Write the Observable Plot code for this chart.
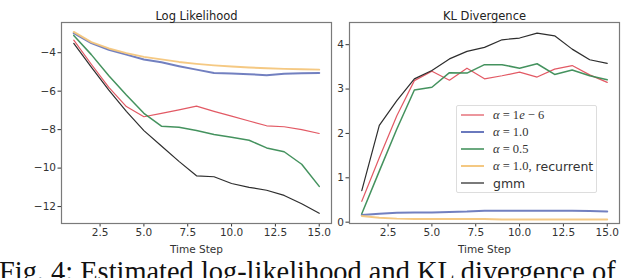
<!DOCTYPE html>
<html><head><meta charset="utf-8">
<script src="https://cdn.jsdelivr.net/npm/d3@7"></script>
<script src="https://cdn.jsdelivr.net/npm/@observablehq/plot@0.6"></script>
<style>
body{margin:0;background:#fff;}
#wrap{position:relative;width:628px;height:278px;overflow:hidden;background:#fff;}
#wrap > div.p{position:absolute;top:0;}
#legend{position:absolute;left:456px;top:105px;width:141px;height:88px;border:1px solid #ddd;background:rgba(255,255,255,0.85);box-sizing:border-box;border-radius:2px;}
.row{position:absolute;left:0;height:16px;display:flex;align-items:center;}
.row svg{margin-left:4px;margin-right:9px;}
.row span{font-size:12.5px;color:#333;white-space:nowrap;}
.m{font-family:"Liberation Serif",serif;}
.s{font-family:"DejaVu Sans",sans-serif;font-size:11.5px;}
#cap{position:absolute;left:-1px;top:255px;font-family:"Liberation Serif",serif;font-size:28.4px;line-height:34px;color:#111;white-space:nowrap;}
</style></head>
<body><div id="wrap"></div>
<script>
const steps = [1,2,3,4,5,6,7,8,9,10,11,12,13,14,15];
const seriesNames = ["α = 1e−6", "α = 1.0", "α = 0.5", "α = 1.0, recurrent", "gmm"];
const seriesColors = ["#e0505c", "#6a79bd", "#3a8c55", "#f4c67c", "#222222"];
const seriesWidths = [1.2, 2.0, 1.5, 1.9, 1.2];

// Log likelihood
const llRed    = [-3.35,-4.6,-5.8,-6.8,-7.33,-7.15,-6.97,-6.78,-7.05,-7.3,-7.55,-7.8,-7.85,-8.0,-8.2];
const llBlue   = [-2.98,-3.5,-3.85,-4.1,-4.35,-4.5,-4.7,-4.88,-5.05,-5.08,-5.12,-5.17,-5.1,-5.07,-5.05];
const llGreen  = [-3.1,-4.1,-5.2,-6.2,-7.15,-7.82,-7.88,-8.05,-8.25,-8.4,-8.55,-8.95,-9.15,-9.8,-10.95];
const llOrange = [-2.92,-3.45,-3.78,-4.02,-4.22,-4.35,-4.48,-4.58,-4.66,-4.72,-4.77,-4.81,-4.84,-4.86,-4.88];
const llBlack  = [-3.52,-4.75,-5.95,-7.05,-8.05,-8.85,-9.65,-10.4,-10.45,-10.8,-11.0,-11.15,-11.42,-11.85,-12.35];

// KL divergence
const klRed    = [0.47,1.45,2.4,3.19,3.4,3.2,3.47,3.23,3.3,3.38,3.27,3.45,3.53,3.32,3.15];
const klBlue   = [0.16,0.19,0.21,0.22,0.22,0.23,0.24,0.26,0.26,0.26,0.26,0.26,0.26,0.25,0.24];
const klGreen  = [0.19,1.15,2.1,2.98,3.04,3.37,3.36,3.55,3.55,3.47,3.57,3.33,3.43,3.3,3.21];
const klOrange = [0.14,0.1,0.08,0.07,0.07,0.07,0.07,0.07,0.06,0.06,0.06,0.06,0.06,0.06,0.06];
const klBlack  = [0.71,2.18,2.74,3.23,3.42,3.68,3.85,3.94,4.11,4.15,4.26,4.2,3.9,3.66,3.58];

const xTicks = [2.5, 5, 7.5, 10, 12.5, 15];
const llTicks = [-4, -6, -8, -10, -12];
const klTicks = [0, 1, 2, 3, 4];

function toRows(arrs){
  const rows = [];
  arrs.forEach((a, si) => a.forEach((v, i) => rows.push({t: steps[i], v, s: si})));
  return rows;
}

function panel(arrs, yDomain, yTicks, title, left){
  const rows = toRows(arrs);
  const order = [0,1,2,3,4];
  return Plot.plot({
    width: 340, height: 262,
    marginLeft: left, marginRight: 340 - left - 270, marginTop: 22, marginBottom: 39,
    style: {fontFamily: "DejaVu Sans, sans-serif", fontSize: "10px", color: "#333", background: "transparent", overflow: "visible"},
    x: {domain: [0.3, 15.7]},
    y: {domain: yDomain},
    marks: [
      Plot.axisX({ticks: xTicks, tickFormat: d => d.toFixed(1), tickSize: 3.5, tickPadding: 2, label: "Time Step", labelAnchor: "center", labelArrow: "none", labelOffset: 29, fontSize: 10.5}),
      Plot.axisX({ticks: xTicks, tickFormat: null, tickSize: 0, label: null, text: null}),
      Plot.axisY({ticks: yTicks, tickFormat: d => d < 0 ? "\u2212" + Math.abs(d) : String(d), tickSize: 3.5, tickPadding: 2, label: null, fontSize: 10.5}),
      ...order.map(si => Plot.line(rows.filter(r => r.s === si), {x: "t", y: "v", stroke: seriesColors[si], strokeWidth: seriesWidths[si], strokeOpacity: 0.95})),
      Plot.frame({stroke: "#7a7a7a", strokeWidth: 1.2}),
      Plot.text([title], {frameAnchor: "top", dy: -11, text: d => d, fontSize: 11.5, fill: "#222"})
    ]
  });
}

const wrap = document.getElementById("wrap");
const p1 = document.createElement("div"); p1.className = "p"; p1.style.left = "0px";
p1.appendChild(panel([llRed, llBlue, llGreen, llOrange, llBlack], [-12.88, -2.43], llTicks, "Log Likelihood", 61));
const p2 = document.createElement("div"); p2.className = "p"; p2.style.left = "288px";
p2.appendChild(panel([klRed, klBlue, klGreen, klOrange, klBlack], [-0.03, 4.5], klTicks, "KL Divergence", 61));
wrap.appendChild(p1); wrap.appendChild(p2);

// legend
const leg = document.createElement("div"); leg.id = "legend";
const labelsHtml = [
  '<span class="m"><i>α</i> = 1<i>e</i> − 6</span>',
  '<span class="m"><i>α</i> = 1.0</span>',
  '<span class="m"><i>α</i> = 0.5</span>',
  '<span class="m"><i>α</i> = 1.0, </span><span class="s">&nbsp;recurrent</span>',
  '<span class="s">gmm</span>'
];
seriesNames.forEach((n, i) => {
  const r = document.createElement("div"); r.className = "row";
  r.style.top = (1 + i * 17) + "px";
  r.title = n;
  r.innerHTML = `<svg width="23" height="10"><line x1="0" x2="23" y1="5" y2="5" stroke="${seriesColors[i]}" stroke-width="${seriesWidths[i]}"/></svg>` + labelsHtml[i];
  leg.appendChild(r);
});
wrap.appendChild(leg);

const cap = document.createElement("div"); cap.id = "cap";
cap.textContent = "Fig. 4: Estimated log-likelihood and KL divergence of";
wrap.appendChild(cap);
</script>
</body></html>
